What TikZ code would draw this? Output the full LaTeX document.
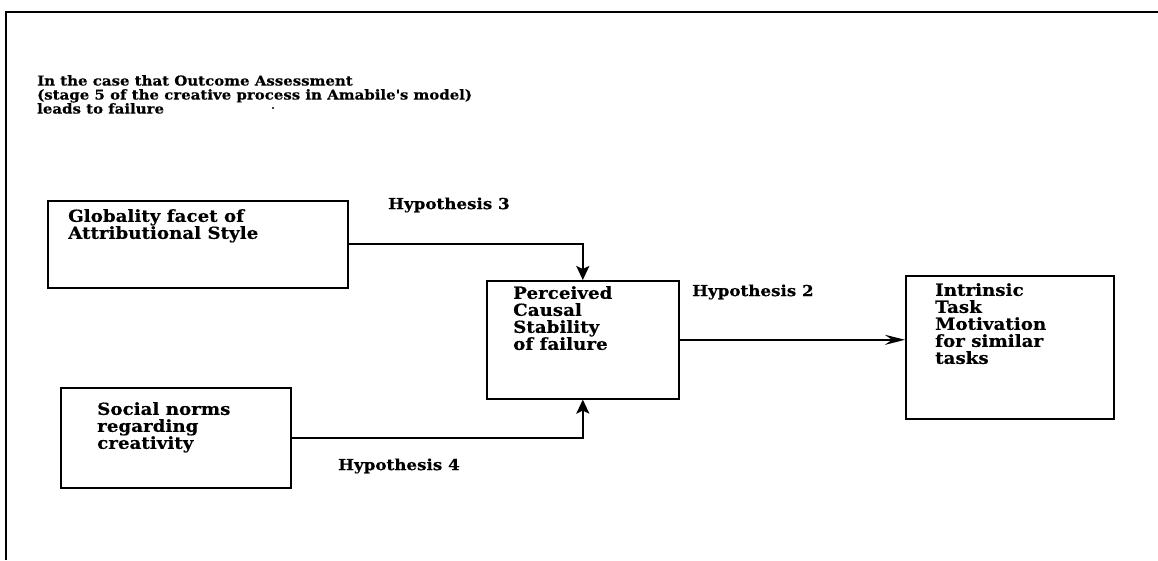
\documentclass[tikz,border=0pt]{standalone}
\usepackage{fontspec}
\setmainfont{DejaVu Serif}[FakeStretch=1.1, BoldFeatures={FakeBold=0.4}]
\usetikzlibrary{arrows.meta}
\begin{document}
\begin{tikzpicture}[x=1pt,y=-1pt,
  box/.style={draw, line width=1.6pt, inner sep=0pt, anchor=north west},
  ttl/.style={font=\bfseries\fontsize{13.6}{14}\selectfont, align=left, inner sep=0pt, anchor=north west},
  btxt/.style={font=\bfseries\fontsize{16.6}{17}\selectfont, align=left, inner sep=0pt, anchor=north west},
  hyp/.style={font=\bfseries\fontsize{15.2}{16}\selectfont, inner sep=0pt, anchor=west},
  vconn/.style={line width=2pt, -{Stealth[length=14pt,width=13pt,inset=3pt]}},
  hconn/.style={line width=1.8pt, -{Stealth[length=20pt,width=10pt,inset=7pt]}}]
\useasboundingbox (0,0) rectangle (1158,560);
% outer frame (top and left sides)
\draw[line width=1.6pt] (6,560) -- (6,12) -- (1158,12);
% title
\node[ttl] (title) at (37,75) {In the case that Outcome Assessment\\(stage 5 of the creative process in Amabile\textquotesingle s model)\\leads to failure};
\fill (273,108) circle (1.2pt);
% boxes
\node[box, minimum width=300pt, minimum height=87pt] (glob) at (47,200) {};
\node[box, minimum width=192pt, minimum height=118pt] (perc) at (486,280) {};
\node[box, minimum width=208pt, minimum height=143pt] (intr) at (905,275) {};
\node[box, minimum width=230pt, minimum height=100pt] (soc) at (60,387) {};
% box texts
\node[btxt] (globt) at ([xshift=21pt,yshift=-9pt]glob.north west) {Globality facet of\\Attributional Style};
\node[btxt] (perct) at ([xshift=27pt,yshift=-6pt]perc.north west) {Perceived\\Causal\\Stability\\of failure};
\node[btxt] (intrt) at ([xshift=30pt,yshift=-8pt]intr.north west) {Intrinsic\\Task\\Motivation\\for similar\\tasks};
\node[btxt] (soct) at ([xshift=37pt,yshift=-15pt]soc.north west) {Social norms\\regarding\\creativity};
% hypothesis labels
\node[hyp] (h3) at (388,205) {Hypothesis 3};
\node[hyp] (h2) at (692,292) {Hypothesis 2};
\node[hyp] (h4) at (338,466) {Hypothesis 4};
% connectors
\draw[vconn] (glob.east) -| (perc.north);
\draw[vconn] (soc.east) -| (perc.south);
\draw[hconn] (perc.east) -- (perc.east -| intr.west);
\end{tikzpicture}
\end{document}
